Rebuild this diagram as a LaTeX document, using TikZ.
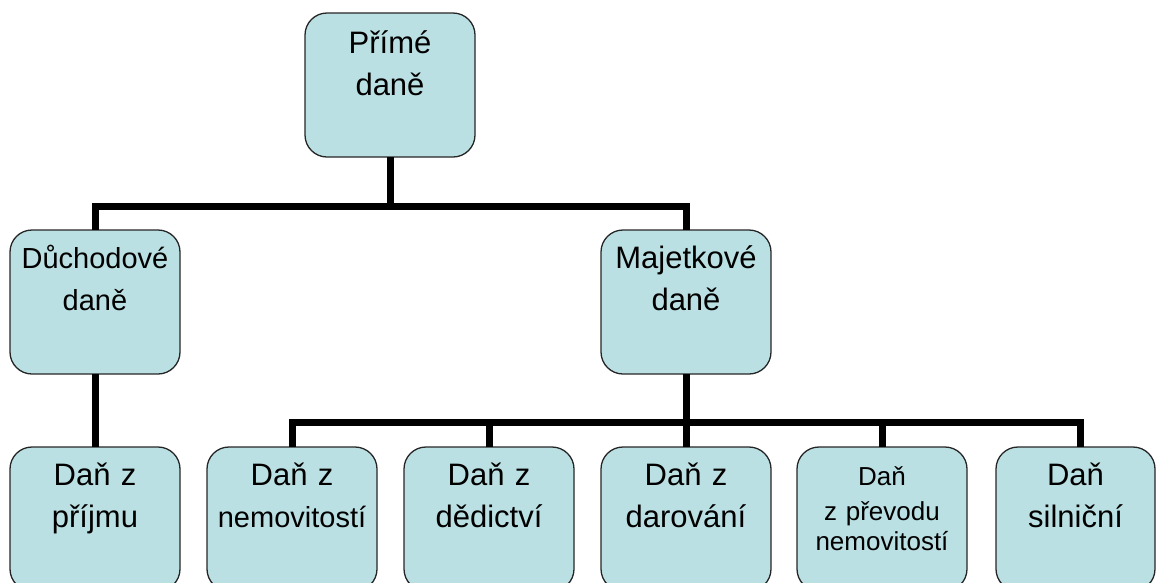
\documentclass[tikz,border=0pt]{standalone}
\usepackage{fontspec}
\setmainfont{Liberation Sans}
\definecolor{boxfill}{RGB}{187,224,227}

\begin{document}
\begin{tikzpicture}[x=1pt, y=-1pt, outer sep=0pt]
  \tikzstyle{taxbox}=[
    draw=black!85,
    line width=1.3pt,
    rounded corners=22pt,
    fill=boxfill,
    anchor=north,
    minimum width=170pt,
    text width=170pt,
    align=center,
    inner sep=0pt,
    text height=38pt,
    text depth=106pt,
    font=\fontsize{31}{42}\selectfont
  ]
  \tikzstyle{conn} = [line width=7pt, draw=black]

  \useasboundingbox (0,0) rectangle (1156,582);
  \clip (0,0) rectangle (1156,582);

  \node[taxbox, text height=40pt, text depth=104pt] (root) at (390,13) {Přímé\\daně};

  \node[taxbox, font=\fontsize{29}{42}\selectfont] (mid1) at (95,230) {Důchodové\\daně};
  \node[taxbox] (mid2) at (686,230) {Majetkové\\daně};
  \coordinate (bus1) at (390,206);
  \draw[conn] (root.south) -- (bus1);
  \draw[conn] (mid1.north) |- (bus1) -| (mid2.north);

  \node[taxbox] (leaf1) at (95,447) {Daň z\\příjmu};
  \node[taxbox] (leaf2) at (292,447) {Daň z\\{\fontsize{29}{42}\selectfont nemovitostí}};
  \node[taxbox] (leaf3) at (489,447) {Daň z\\dědictví};
  \node[taxbox] (leaf4) at (686,447) {Daň z\\darování};
  \node[taxbox, font=\fontsize{26}{30}\selectfont] (leaf5) at (882,447) {Daň\\[5pt]z převodu\\nemovitostí};
  \node[taxbox, minimum width=159pt, text width=159pt] (leaf6) at (1075.5,447) {Daň\\silniční};
  \draw[conn] (mid1.south) -- (leaf1.north);

  \coordinate (bus2) at (686,422);
  \draw[conn] (mid2.south) -- (bus2);
  \draw[conn] (leaf2.north) |- (bus2) -| ([xshift=4.5pt]leaf6.north);
  \draw[conn] (leaf3.north) -- (leaf3.north |- bus2);
  \draw[conn] (leaf4.north) -- (bus2);
  \draw[conn] (leaf5.north) -- (leaf5.north |- bus2);
\end{tikzpicture}
\end{document}
